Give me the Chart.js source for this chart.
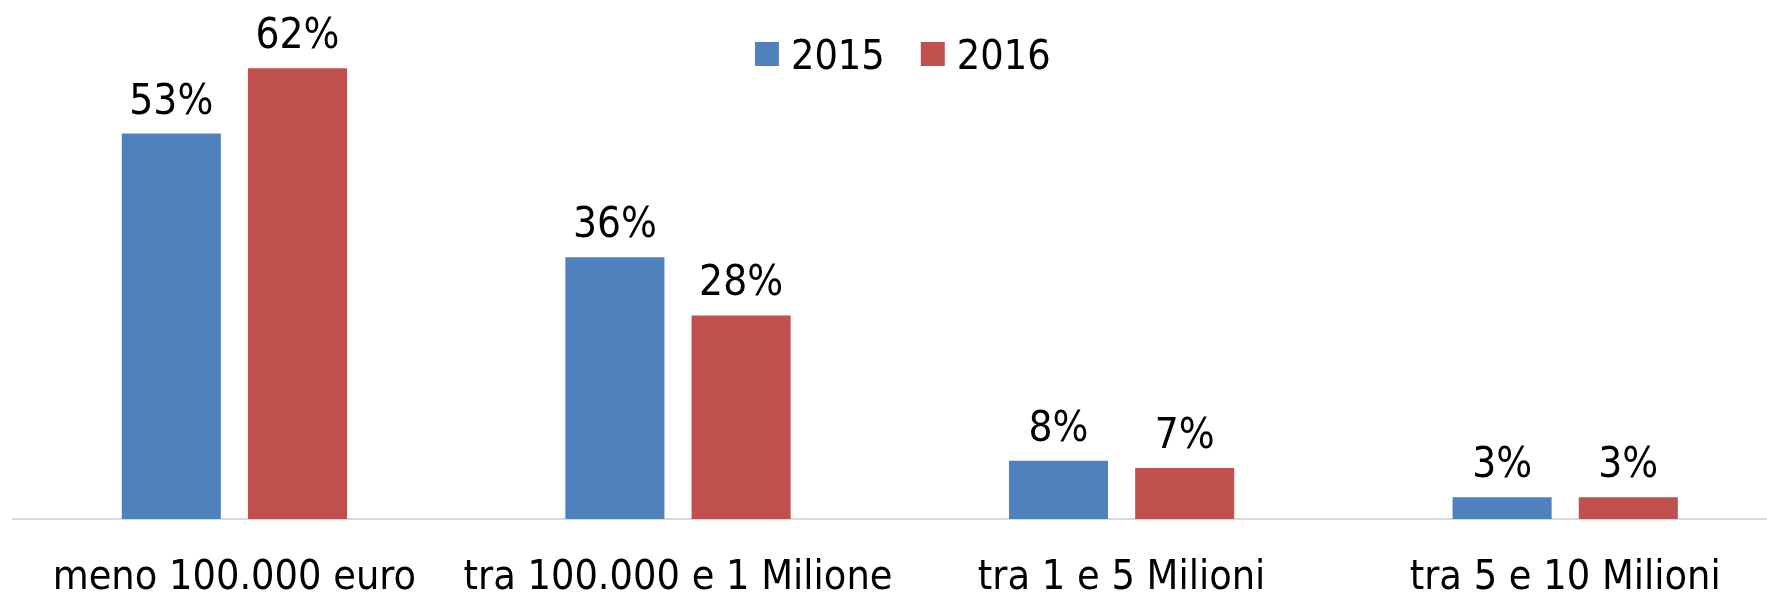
<!DOCTYPE html>
<html><head><meta charset="utf-8">
<script src="https://cdn.jsdelivr.net/npm/chart.js@4/dist/chart.umd.min.js"></script>
<style>
html,body{margin:0;padding:0;background:#fff;overflow:hidden;}
#wrap{width:1790px;height:593px;position:relative;}
</style></head><body>
<div id="wrap"><canvas id="c"></canvas></div>
<script>
const categories = ["meno 100.000 euro", "tra 100.000 e 1 Milione", "tra 1 e 5 Milioni", "tra 5 e 10 Milioni"];
const seriesNames = ["2015", "2016"];
const values2015 = [53, 36, 8, 3];
const values2016 = [62, 28, 7, 3];
const seriesColors = ["#4F81BD", "#C0504D"];
const FONT = "'DejaVu Sans Condensed', 'DejaVu Sans', sans-serif";

const valueLabels = {
  id: 'valueLabels',
  afterDatasetsDraw(chart) {
    const ctx = chart.ctx;
    ctx.save();
    ctx.font = `42px ${FONT}`;
    ctx.fillStyle = '#000';
    ctx.textAlign = 'center';
    ctx.textBaseline = 'alphabetic';
    chart.data.datasets.forEach((ds, i) => {
      const meta = chart.getDatasetMeta(i);
      meta.data.forEach((el, j) => {
        ctx.fillText(ds.data[j] + '%', el.x, el.y - 20);
      });
    });
    ctx.restore();
  }
};

const topLegend = {
  id: 'topLegend',
  afterDraw(chart) {
    const ctx = chart.ctx;
    const ca = chart.chartArea;
    ctx.save();
    ctx.font = `41px ${FONT}`;
    const box = 24, gapText = 12, gapItem = 36, cy = 54;
    const items = chart.data.datasets.map(ds => ({label: ds.label, color: ds.backgroundColor, w: ctx.measureText(ds.label).width}));
    let total = 0;
    items.forEach((it, i) => { total += box + gapText + it.w + (i < items.length - 1 ? gapItem : 0); });
    let x = (ca.left + ca.right) / 2 - total / 2 + 3;
    ctx.textBaseline = 'alphabetic';
    ctx.textAlign = 'left';
    items.forEach(it => {
      ctx.fillStyle = it.color;
      ctx.fillRect(x, cy - box / 2, box, box);
      x += box + gapText;
      ctx.fillStyle = '#000';
      ctx.fillText(it.label, x, cy + 15);
      x += it.w + gapItem;
    });
    ctx.restore();
  }
};

new Chart(document.getElementById('c'), {
  type: 'bar',
  data: {
    labels: categories,
    datasets: [
      {label: seriesNames[0], data: values2015, backgroundColor: seriesColors[0]},
      {label: seriesNames[1], data: values2016, backgroundColor: seriesColors[1]}
    ]
  },
  options: {
    responsive: true,
    maintainAspectRatio: false,
    animation: false,
    datasets: {bar: {categoryPercentage: 0.569, barPercentage: 0.785}},
    layout: {padding: {left: 12.6, right: 3, top: 10, bottom: -45}},
    plugins: {legend: {display: false}, tooltip: {enabled: false}},
    scales: {
      x: {
        grid: {display: false, drawTicks: false},
        border: {display: true, color: '#D9D9D9', width: 2},
        ticks: {color: '#000', padding: 39, font: {family: FONT, size: 41, lineHeight: 1.0}, maxRotation: 0, autoSkip: false}
      },
      y: {display: false, min: 0, max: 70}
    }
  },
  plugins: [valueLabels, topLegend]
});
</script>
</body></html>
